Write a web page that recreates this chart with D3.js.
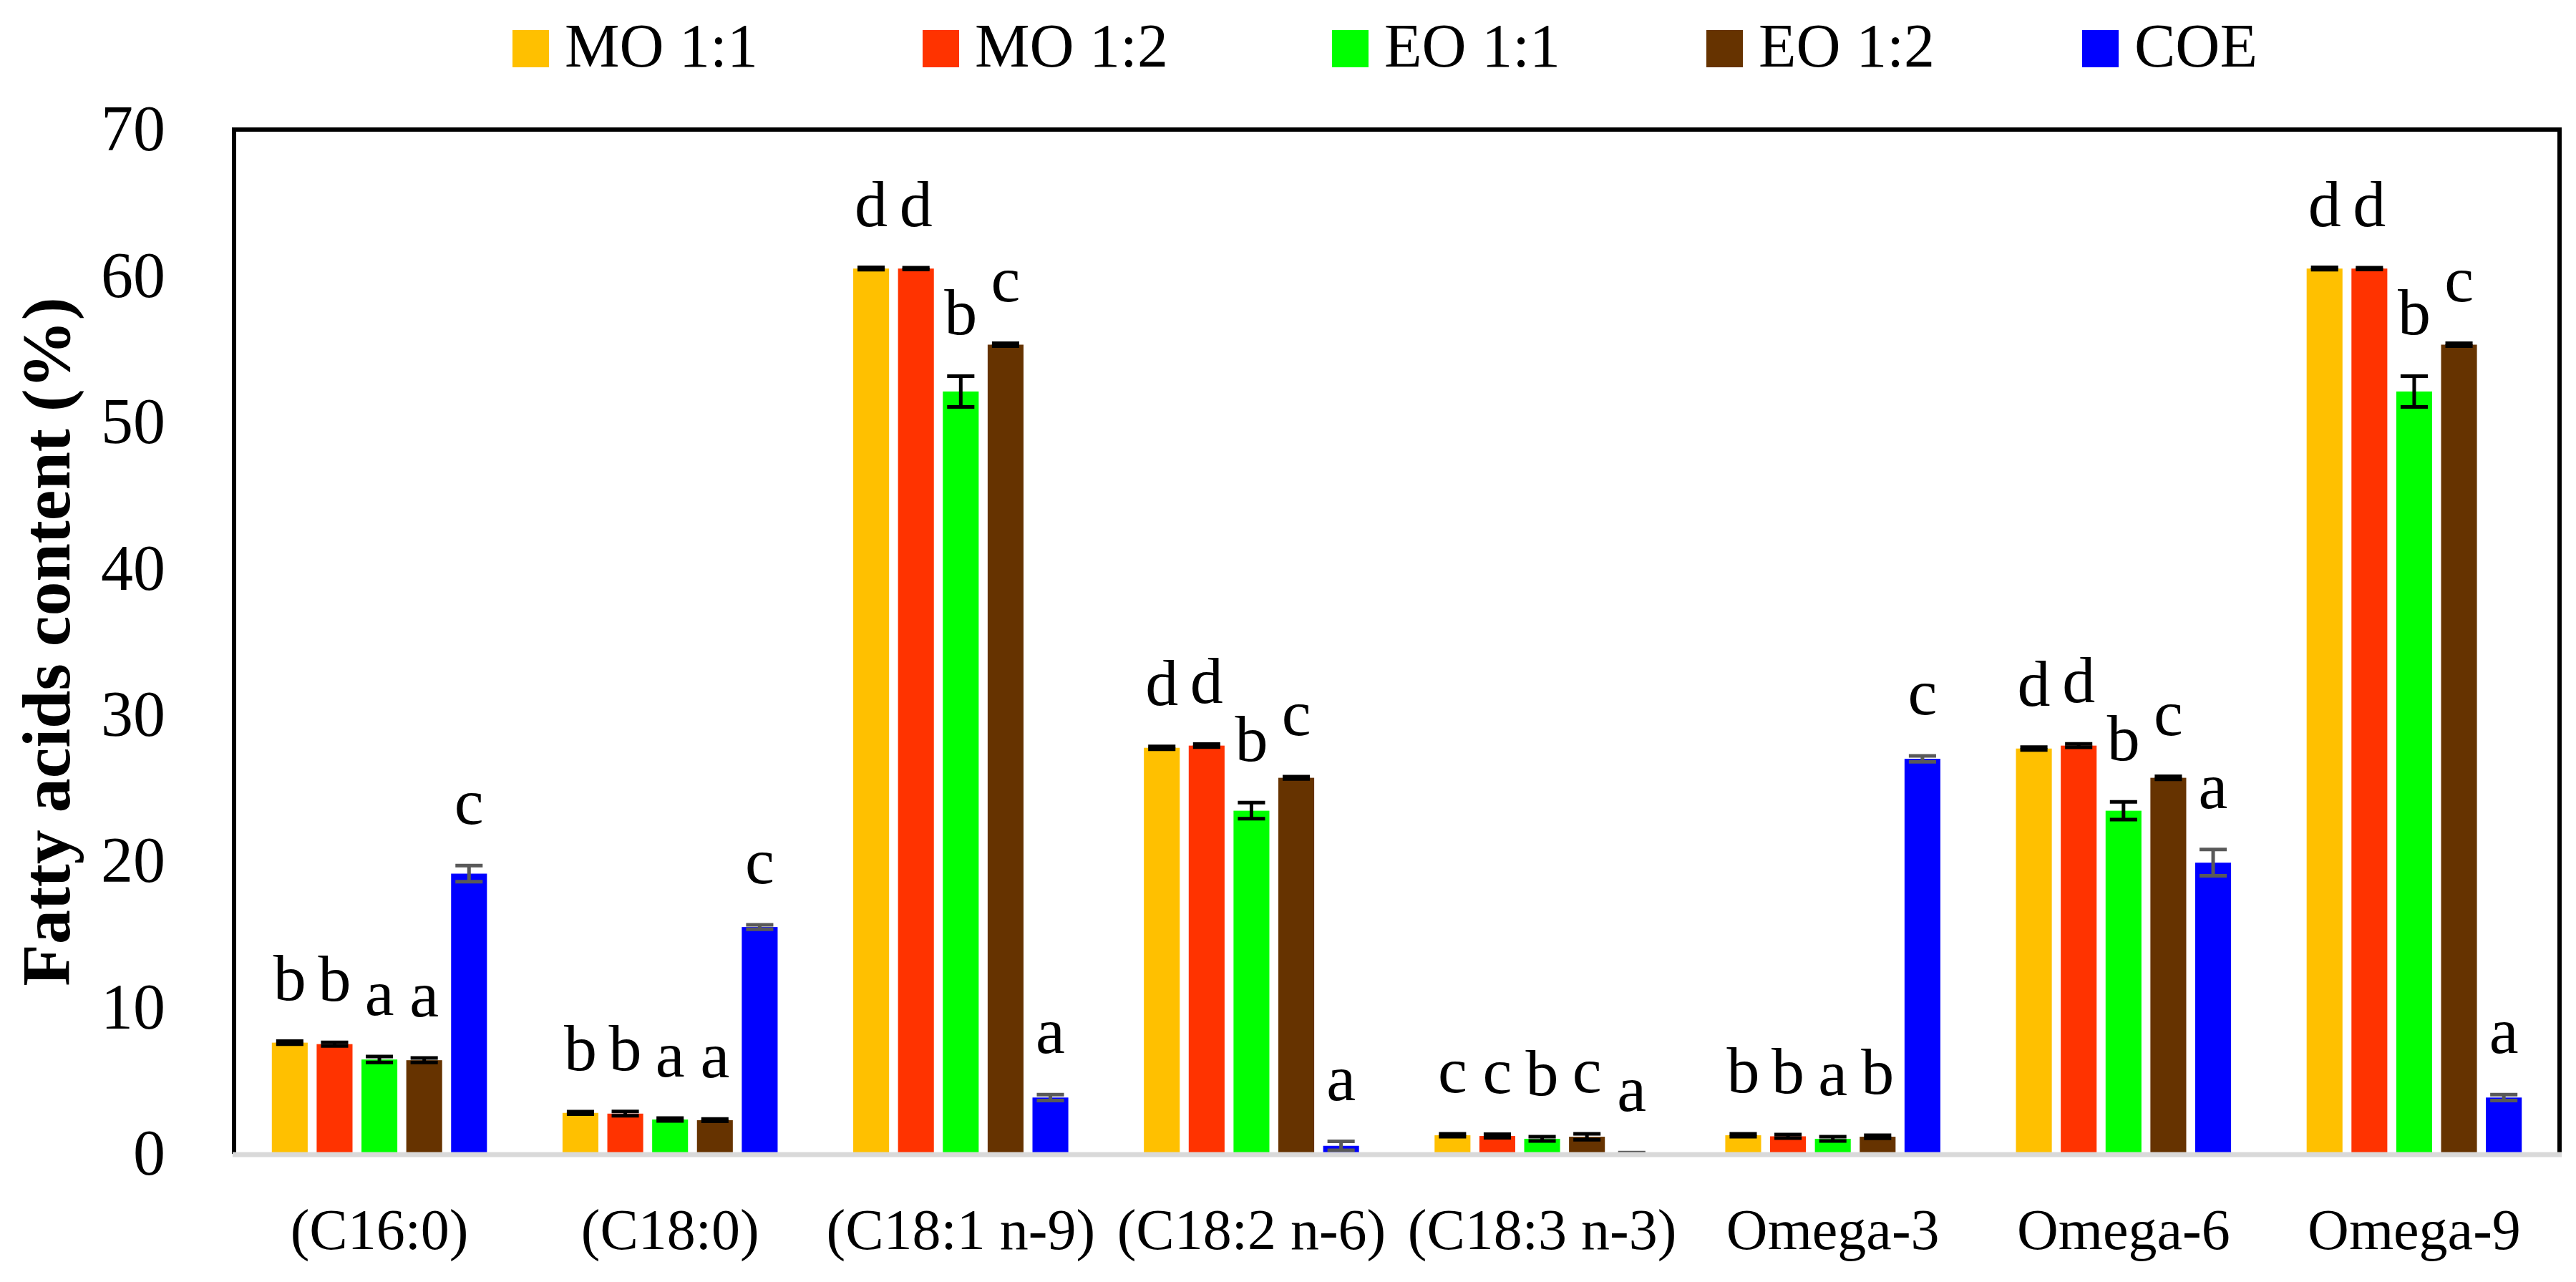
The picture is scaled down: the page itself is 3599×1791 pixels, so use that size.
<!DOCTYPE html>
<html lang="en">
<head>
    <meta charset="UTF-8">
    <title>Fatty acids content</title>
    <script src="https://d3js.org/d3.v7.min.js"></script>
    <style>
        body { margin: 0; background: #fff; }
        text { font-family: "Liberation Serif", "DejaVu Serif", serif; fill: #000; }
        .tick text { font-size: 90px; }
        .axis-label { font-size: 96px; font-weight: bold; }
        .cat-label { font-size: 80px; }
        .legend text { font-size: 86px; }
        .letter { font-size: 92px; }
    </style>
</head>
<body>
    <svg width="3599" height="1791"></svg>

    <script>
        // data
        const categories = ["(C16:0)", "(C18:0)", "(C18:1 n-9)", "(C18:2 n-6)", "(C18:3 n-3)", "Omega-3", "Omega-6", "Omega-9"];
        const seriesNames = ["MO 1:1", "MO 1:2", "EO 1:1", "EO 1:2", "COE"];
        const colors = ["#ffc000", "#ff3300", "#00ff00", "#663300", "#0000ff"];
        const yTicks = [0, 10, 20, 30, 40, 50, 60, 70];

        const mo11 = [7.6, 2.8, 60.5, 27.75, 1.27, 1.27, 27.7, 60.5];
        const mo12 = [7.5, 2.75, 60.5, 27.9, 1.22, 1.2, 27.9, 60.5];
        const eo11 = [6.45, 2.35, 52.1, 23.45, 1.03, 1.03, 23.45, 52.1];
        const eo12 = [6.4, 2.3, 55.3, 25.7, 1.17, 1.17, 25.7, 55.3];
        const coe = [19.15, 15.5, 3.85, 0.55, 0.05, 27.0, 19.9, 3.85];

        const mo11Err = [0.1, 0.08, 0.08, 0.1, 0.1, 0.1, 0.1, 0.08];
        const mo12Err = [0.12, 0.15, 0.06, 0.1, 0.12, 0.12, 0.12, 0.06];
        const eo11Err = [0.2, 0.1, 1.05, 0.55, 0.15, 0.15, 0.6, 1.05];
        const eo12Err = [0.15, 0.08, 0.1, 0.08, 0.2, 0.1, 0.1, 0.1];
        const coeErr = [0.55, 0.15, 0.2, 0.3, 0.03, 0.2, 0.9, 0.2];

        const mo11Sig = ["b", "b", "d", "d", "c", "b", "d", "d"];
        const mo12Sig = ["b", "b", "d", "d", "c", "b", "d", "d"];
        const eo11Sig = ["a", "a", "b", "b", "b", "a", "b", "b"];
        const eo12Sig = ["a", "a", "c", "c", "c", "b", "c", "c"];
        const coeSig = ["c", "c", "a", "a", "a", "c", "a", "a"];

        const values = [mo11, mo12, eo11, eo12, coe];
        const errors = [mo11Err, mo12Err, eo11Err, eo12Err, coeErr];
        const letters = [mo11Sig, mo12Sig, eo11Sig, eo12Sig, coeSig];

        const margin = {top: 181, right: 23, bottom: 179, left: 327},
              width = 3599 - margin.left - margin.right,
              height = 1791 - margin.top - margin.bottom;

        const svg = d3.select("svg");
        const g = svg.append("g")
            .attr("transform", `translate(${margin.left},${margin.top})`);

        const x = d3.scaleBand()
            .domain(categories)
            .range([0, width]);

        // the five bars sit in the middle 74% of each category
        const groupW = x.bandwidth() * 0.74;
        const x1 = d3.scaleBand()
            .domain(seriesNames)
            .range([(x.bandwidth() - groupW) / 2, (x.bandwidth() + groupW) / 2])
            .paddingInner(0.2);

        const y = d3.scaleLinear()
            .domain([0, 70])
            .range([height, 0]);

        // y axis labels
        const yAxis = g.append("g")
            .call(d3.axisLeft(y).tickValues(yTicks).tickSize(0).tickPadding(96));
        yAxis.select(".domain").remove();

        // flat table for the bars
        const rows = [];
        categories.forEach((c, i) => {
            seriesNames.forEach((s, j) => {
                rows.push({cat: c, series: s, j: j, value: values[j][i], err: errors[j][i], sig: letters[j][i]});
            });
        });

        const groups = g.selectAll(".group")
            .data(categories)
            .join("g")
            .attr("class", "group")
            .attr("transform", d => `translate(${x(d)},0)`);

        groups.selectAll("rect")
            .data(c => rows.filter(r => r.cat === c))
            .join("rect")
            .attr("x", d => x1(d.series))
            .attr("y", d => y(d.value))
            .attr("width", x1.bandwidth())
            .attr("height", d => y(0) - y(d.value))
            .attr("fill", d => colors[d.j]);

        // error bars
        const capW = x1.bandwidth() * 0.76;
        const eb = groups.selectAll(".err")
            .data(c => rows.filter(r => r.cat === c))
            .join("g")
            .attr("class", "err")
            .attr("stroke", d => d.j === 4 ? "#595959" : "#000")
            .attr("stroke-width", 5);
        eb.append("line")
            .attr("x1", d => x1(d.series) + x1.bandwidth() / 2)
            .attr("x2", d => x1(d.series) + x1.bandwidth() / 2)
            .attr("y1", d => y(d.value + d.err))
            .attr("y2", d => y(Math.max(0, d.value - d.err)));
        eb.selectAll(".cap")
            .data(d => [d.value + d.err, Math.max(0, d.value - d.err)].map(v => ({d: d, v: v})))
            .join("line")
            .attr("class", "cap")
            .attr("x1", e => x1(e.d.series) + (x1.bandwidth() - capW) / 2)
            .attr("x2", e => x1(e.d.series) + (x1.bandwidth() + capW) / 2)
            .attr("y1", e => y(e.v))
            .attr("y2", e => y(e.v));

        // significance letters
        groups.selectAll(".letter")
            .data(c => rows.filter(r => r.cat === c))
            .join("text")
            .attr("class", "letter")
            .attr("text-anchor", "middle")
            .attr("x", d => x1(d.series) + x1.bandwidth() / 2)
            .attr("y", d => y(d.value + d.err) - 58)
            .text(d => d.sig);

        // plot frame: black left/top/right, grey baseline
        g.append("path")
            .attr("d", `M0,${height} V0 H${width} V${height}`)
            .attr("fill", "none")
            .attr("stroke", "#000")
            .attr("stroke-width", 6);
        g.append("line")
            .attr("x1", -2).attr("x2", width + 3)
            .attr("y1", height + 1).attr("y2", height + 1)
            .attr("stroke", "#d9d9d9")
            .attr("stroke-width", 7);

        // category labels
        g.selectAll(".cat-label")
            .data(categories)
            .join("text")
            .attr("class", "cat-label")
            .attr("text-anchor", "middle")
            .attr("x", d => x(d) + x.bandwidth() / 2)
            .attr("y", height + 133)
            .text(d => d);

        // y title
        svg.append("text")
            .attr("class", "axis-label")
            .attr("text-anchor", "middle")
            .attr("transform", `translate(97,${margin.top + height / 2}) rotate(-90)`)
            .text("Fatty acids content (%)");

        // legend
        const legendX = [716, 1289, 1861, 2384, 2909];
        const legend = svg.append("g").attr("class", "legend")
            .selectAll("g")
            .data(seriesNames)
            .join("g")
            .attr("transform", (d, i) => `translate(${legendX[i]},42)`);
        legend.append("rect")
            .attr("width", 51).attr("height", 52)
            .attr("fill", (d, i) => colors[i]);
        legend.append("text")
            .attr("x", 73).attr("y", 51)
            .text(d => d);
    </script>
</body>
</html>
